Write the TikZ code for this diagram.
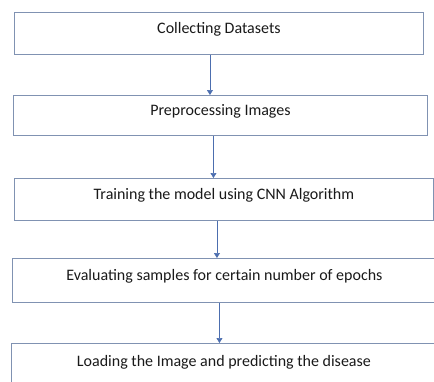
\documentclass[tikz,border=0pt]{standalone}
\usepackage{fontspec}
\setmainfont{Carlito}
\usepackage{tikz}
\usetikzlibrary{arrows.meta}

\definecolor{boxline}{RGB}{128,146,178}
\definecolor{arrowblue}{RGB}{76,110,175}

\tikzset{
  stepbox/.style={draw=boxline, line width=0.9pt, rectangle, anchor=north west,
    minimum height=42pt, text height=8pt, text depth=8pt, inner sep=0pt,
    font=\fontsize{16}{19}\selectfont, text=black!90},
  flow/.style={draw=arrowblue, line width=0.7pt, -{Triangle[width=6pt,length=5pt]}}
}

\begin{document}
\begin{tikzpicture}[x=1pt,y=-1pt]
\useasboundingbox (0,0) rectangle (434,381);
% boxes
\node[stepbox, minimum width=409pt] (collect) at (14,12) {Collecting Datasets};
\node[stepbox, minimum width=414pt, minimum height=40pt] (prep) at (13,95) {Preprocessing Images};
\node[stepbox, minimum width=419pt] (train) at (14,178) {Training the model using CNN Algorithm};
\node[stepbox, minimum width=424pt, minimum height=44pt] (eval) at (12,258) {Evaluating samples for certain number of epochs};
\node[stepbox, minimum width=425pt, minimum height=46pt] (load) at (11,343) {Loading the Image and predicting the disease};
% arrows
\draw[flow] ([xshift=-9pt]collect.south) -- ([xshift=-9pt]collect.south |- prep.north);
\draw[flow] ([xshift=-7pt]prep.south) -- ([xshift=-7pt]prep.south |- train.north);
\draw[flow] ([xshift=-7pt]train.south) -- ([xshift=-7pt]train.south |- eval.north);
\draw[flow] ([xshift=-5pt]eval.south) -- ([xshift=-5pt]eval.south |- load.north);
\end{tikzpicture}
\end{document}
